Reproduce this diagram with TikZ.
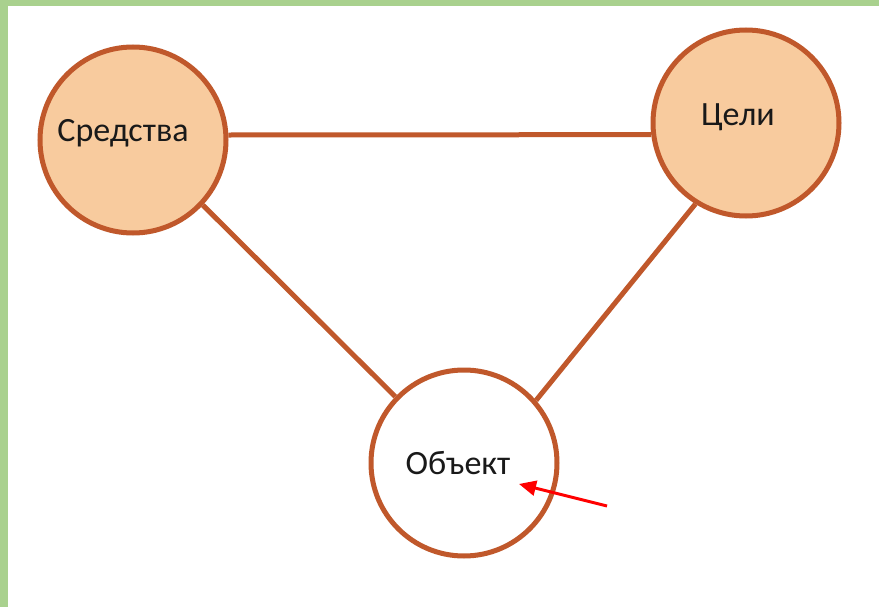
\documentclass[tikz,border=0pt]{standalone}
\usepackage{fontspec}
\setmainfont{Carlito}
\usetikzlibrary{arrows.meta,calc}
\definecolor{frame}{HTML}{A9D18E}
\definecolor{ring}{HTML}{C0582B}
\definecolor{peach}{HTML}{F8CB9E}
\tikzset{
  circ/.style={circle,draw=ring,line width=5pt,minimum size=186pt,inner sep=0pt},
  lbl/.style={font=\fontsize{34}{40}\selectfont,text=black!90,inner sep=0pt},
  link/.style={draw=ring,line width=5pt},
  pointer/.style={draw=red,line width=3pt,-{Triangle[length=17pt,width=15pt]}}
}
\begin{document}
\begin{tikzpicture}[x=1pt,y=-1pt]
\fill[white] (0,0) rectangle (879,607);
\useasboundingbox (0,0) rectangle (879,607);
\fill[frame] (0,0) rectangle (879,6);
\fill[frame] (0,0) rectangle (8,607);
\node[circ,fill=peach] (sred) at (133,140) {};
\node[circ,fill=peach] (celi) at (746,123) {};
\node[circ,fill=white] (obj) at (464,463) {};
\node[lbl] (tsred) at (123,133) {Средства};
\node[lbl] (tceli) at (738,117) {Цели};
\node[lbl] (tobj) at (458,463) {Объект};
\draw[link] (sred.3.6) -- (celi.187.3);
\draw[link] (sred.-43.4) -- (obj.136);
\draw[link] (obj.41.3) -- (celi.238);
\coordinate (ptail) at (607,506);
\coordinate (phead) at (519,484);
\draw[pointer] (ptail) -- (phead);
\end{tikzpicture}
\end{document}
